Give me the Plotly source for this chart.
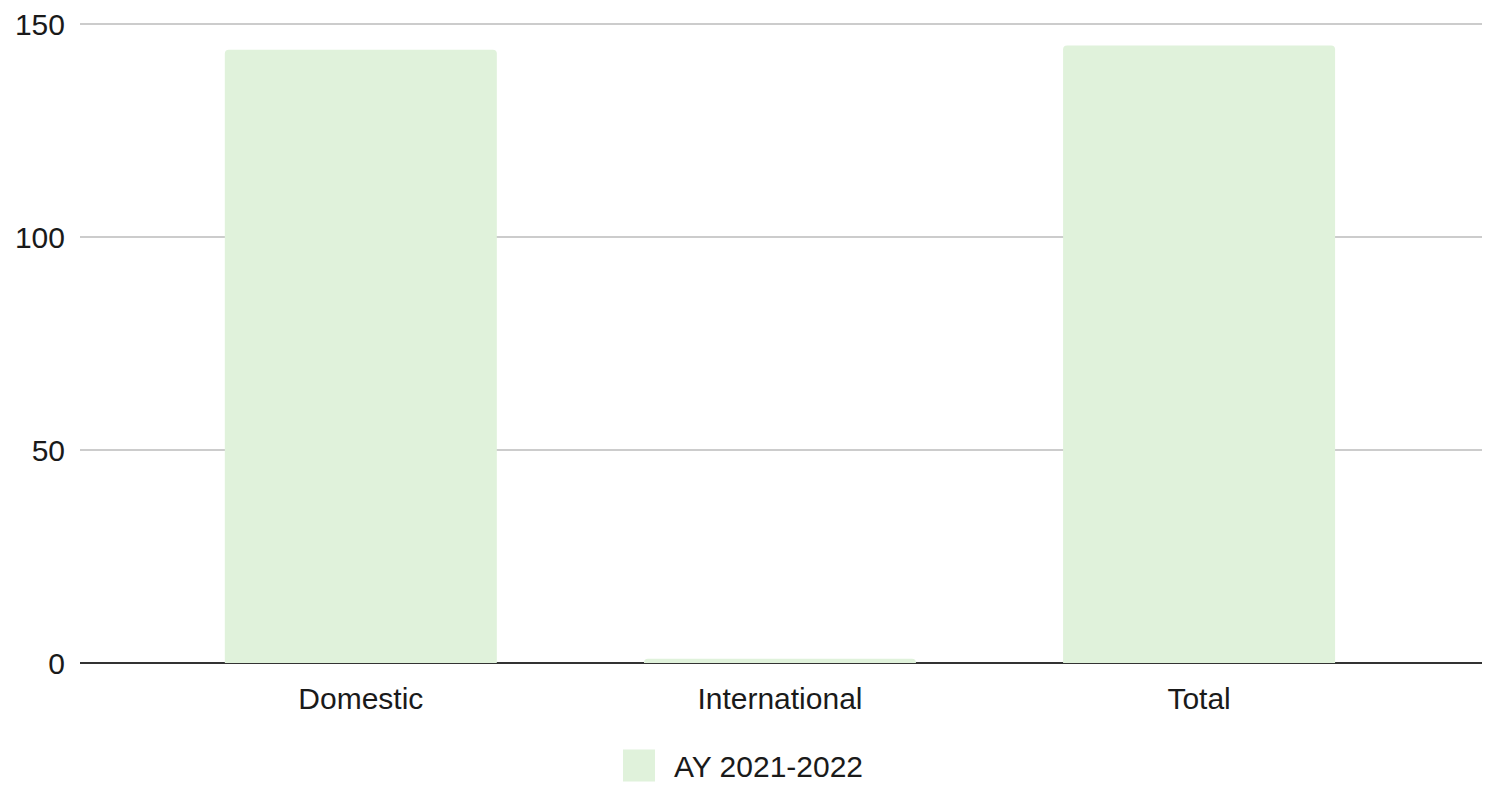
import plotly.graph_objects as go

# Enrolment counts by student type
categories = ["Domestic", "International", "Total"]
ay_2021_2022 = [144, 1, 145]
series_name = "AY 2021-2022"
y_ticks = [0, 50, 100, 150]

BAR_COLOR = "#e0f2db"
FONT = "Liberation Sans, Arial, sans-serif"
TEXT_SIZE = 30

# plot area geometry (px) used to place the legend swatch in paper coordinates
PLOT_L, PLOT_W = 80, 1402
PLOT_T, PLOT_B = 22, 663.5
PLOT_H = PLOT_B - PLOT_T

fig = go.Figure()
fig.add_trace(go.Bar(
    x=categories,
    y=ay_2021_2022,
    name=series_name,
    marker=dict(color=BAR_COLOR, line=dict(width=0), cornerradius=4),
    showlegend=False,
))

# Legend drawn as a swatch + label below the plot
fig.add_shape(
    type="rect", xref="paper", yref="paper",
    x0=(623 - PLOT_L) / PLOT_W, x1=(655 - PLOT_L) / PLOT_W,
    y0=-(782 - PLOT_B) / PLOT_H, y1=-(750 - PLOT_B) / PLOT_H,
    fillcolor=BAR_COLOR, line=dict(width=0), layer="above",
)
fig.add_annotation(
    text=series_name, xref="paper", yref="paper",
    x=(672 - PLOT_L) / PLOT_W, y=-(767 - PLOT_B) / PLOT_H,
    xanchor="left", yanchor="middle", showarrow=False,
    font=dict(family=FONT, size=TEXT_SIZE, color="#1a1a1a"),
)

fig.update_layout(
    width=1486, height=786,
    margin=dict(l=PLOT_L, r=1486 - PLOT_L - PLOT_W, t=PLOT_T, b=786 - PLOT_B, pad=0),
    paper_bgcolor="white", plot_bgcolor="white",
    bargap=0.351,
    font=dict(family=FONT, size=TEXT_SIZE, color="#1a1a1a"),
    showlegend=False,
    xaxis=dict(
        range=[-0.67, 2.675], showgrid=False, showline=False, zeroline=False,
        ticks="outside", ticklen=9, tickcolor="rgba(0,0,0,0)",
        tickfont=dict(family=FONT, size=TEXT_SIZE, color="#1a1a1a"),
    ),
    yaxis=dict(
        range=[0, 150.5], tickvals=y_ticks, showgrid=True, gridcolor="#cccccc", gridwidth=2,
        zeroline=True, zerolinecolor="#333333", zerolinewidth=2, showline=False,
        ticks="outside", ticklen=8, tickcolor="rgba(0,0,0,0)",
        tickfont=dict(family=FONT, size=TEXT_SIZE, color="#1a1a1a"),
    ),
)

fig.write_html("out.html")
